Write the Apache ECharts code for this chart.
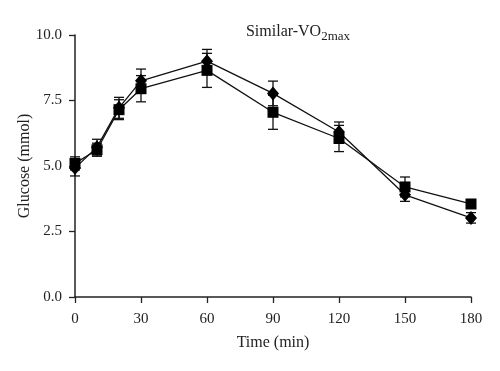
<!DOCTYPE html>
<html><head><meta charset="utf-8">
<script src="https://cdn.jsdelivr.net/npm/echarts@6/dist/echarts.min.js"></script>
<style>html,body{margin:0;padding:0;background:#fff}#c{width:500px;height:371px}</style>
</head><body><div id="c"></div>
<script>
var times = [0, 10, 20, 30, 60, 90, 120, 150, 180];
var diamondVals = [4.92, 5.72, 7.22, 8.25, 9.0, 7.77, 6.3, 3.9, 3.02];
var diamondErr  = [0.3, 0.3, 0.4, 0.45, 0.45, 0.47, 0.38, 0.25, 0.2];
var squareVals  = [5.1, 5.62, 7.15, 7.95, 8.65, 7.05, 6.05, 4.2, 3.55];
var squareErr   = [0.25, 0.25, 0.38, 0.5, 0.65, 0.65, 0.5, 0.38, 0.15];
var yTicks = [0, 2.5, 5, 7.5, 10];
var xTicks = [0, 30, 60, 90, 120, 150, 180];
var yName = 'Glucose (mmol)';

var font = 'Liberation Serif';
function pairs(v){ return times.map(function(t,i){ return [t, v[i]]; }); }
function errData(v,e){ return times.map(function(t,i){ return [t, v[i]-e[i], v[i]+e[i]]; }); }
function errRender(params, api){
  var x = api.value(0);
  var lo = api.coord([x, api.value(1)]);
  var hi = api.coord([x, api.value(2)]);
  var w = 5;
  var st = {stroke:'#111', lineWidth:1.3};
  return {type:'group', children:[
    {type:'line', shape:{x1:lo[0],y1:lo[1],x2:hi[0],y2:hi[1]}, style:st},
    {type:'line', shape:{x1:lo[0]-w,y1:lo[1],x2:lo[0]+w,y2:lo[1]}, style:st},
    {type:'line', shape:{x1:hi[0]-w,y1:hi[1],x2:hi[0]+w,y2:hi[1]}, style:st}
  ]};
}
var chart = echarts.init(document.getElementById('c'));
chart.setOption({
  animation:false,
  backgroundColor:'#fff',
  title:{
    text:'{a|Similar-VO}{b|2max}',
    left:293, top:16, textAlign:'center',
    textStyle:{rich:{
      a:{fontFamily:font, fontSize:16, fontWeight:'normal', color:'#222'},
      b:{fontFamily:font, fontSize:13, fontWeight:'normal', color:'#222', padding:[9,0,0,0]}
    }}
  },
  graphic:[{
    type:'text', x:25, y:166, rotation:Math.PI/2,
    style:{text:yName, fontFamily:font, fontSize:16, fill:'#222',
      align:'center', verticalAlign:'middle'}
  }],
  grid:{left:75, right:29, top:35, bottom:74},
  xAxis:{
    type:'value', min:0, max:180, interval:30,
    name:'Time (min)', nameLocation:'middle', nameGap:38,
    nameTextStyle:{fontFamily:font, fontSize:16, color:'#222'},
    axisLine:{lineStyle:{color:'#222', width:1.5}},
    axisTick:{length:6, lineStyle:{color:'#222', width:1.3}},
    axisLabel:{fontFamily:font, fontSize:15, color:'#222', margin:15,
      customValues: xTicks},
    splitLine:{show:false}
  },
  yAxis:{
    type:'value', min:0, max:10, interval:2.5,
    axisLine:{show:true, lineStyle:{color:'#222', width:1.5}},
    axisTick:{show:true, length:6, lineStyle:{color:'#222', width:1.3}},
    axisLabel:{fontFamily:font, fontSize:15, color:'#222', margin:13,
      formatter:function(v){ return yTicks.indexOf(v)>=0 ? v.toFixed(1) : ''; }},
    splitLine:{show:false}
  },
  series:[
    {type:'custom', data:errData(squareVals, squareErr), renderItem:errRender, z:1},
    {type:'custom', data:errData(diamondVals, diamondErr), renderItem:errRender, z:1},
    {type:'line', data:pairs(squareVals), symbol:'rect', symbolSize:11,
      lineStyle:{color:'#111', width:1.3}, itemStyle:{color:'#000'}, z:3},
    {type:'line', data:pairs(diamondVals), symbol:'diamond', symbolSize:[12,14],
      lineStyle:{color:'#111', width:1.3}, itemStyle:{color:'#000'}, z:3}
  ]
});
</script></body></html>
